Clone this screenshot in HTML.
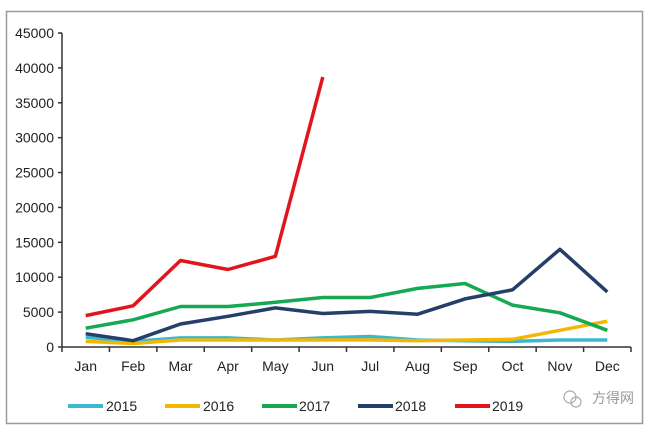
<!DOCTYPE html>
<html><head><meta charset="utf-8"><style>
html,body{margin:0;padding:0;background:#fff;}
svg{display:block;font-family:"Liberation Sans","Noto Sans CJK SC",sans-serif;}
</style></head><body>
<svg id="c" width="650" height="426" viewBox="0 0 650 426" xmlns="http://www.w3.org/2000/svg">
<rect x="0" y="0" width="650" height="426" fill="#fff"/>
<rect x="6.5" y="11.5" width="636" height="412" fill="#fff" stroke="#9a9a9a" stroke-width="1.5"/>
<g id="axes" stroke="#333" stroke-width="1.5"></g>
<g id="lbl" font-size="14" fill="#222"></g>
<g id="series" fill="none" stroke-width="3.5" stroke-linejoin="round"></g>
<g font-size="14" fill="#222">
<line x1="68" y1="406" x2="103" y2="406" stroke="#3bb8d0" stroke-width="4"/><text x="106" y="411">2015</text>
<line x1="165" y1="406" x2="200" y2="406" stroke="#f2b705" stroke-width="4"/><text x="203" y="411">2016</text>
<line x1="262" y1="406" x2="297" y2="406" stroke="#17a854" stroke-width="4"/><text x="299" y="411">2017</text>
<line x1="358" y1="406" x2="393" y2="406" stroke="#243f69" stroke-width="4"/><text x="395" y="411">2018</text>
<line x1="455" y1="406" x2="490" y2="406" stroke="#e0161c" stroke-width="4"/><text x="492" y="411">2019</text>
</g>
<circle cx="570" cy="397" r="6" fill="none" stroke="#aaa" stroke-width="1.2"/>
<circle cx="576" cy="402" r="5" fill="none" stroke="#aaa" stroke-width="1.2"/>
<text x="592" y="403" font-size="14" fill="#999">方得网</text>
</svg>
<script>
var ns="http://www.w3.org/2000/svg";
function el(p,t,a,txt){var e=document.createElementNS(ns,t);for(var k in a)e.setAttribute(k,a[k]);if(txt)e.textContent=txt;document.getElementById(p).appendChild(e);}
function Y(v){return 347-v*314/45000;}
var x0=62,x1=631,w=(x1-x0)/12;
el("axes","line",{x1:x0,y1:33,x2:x0,y2:347});
el("axes","line",{x1:x0,y1:347,x2:x1,y2:347});
for(var i=0;i<=9;i++){var y=Y(i*5000);el("axes","line",{x1:x0-4,y1:y,x2:x0,y2:y});
el("lbl","text",{x:x0-8,y:y+5,"text-anchor":"end"},String(i*5000));}
var m=["Jan","Feb","Mar","Apr","May","Jun","Jul","Aug","Sep","Oct","Nov","Dec"];
for(var i=0;i<=12;i++){var x=x0+i*w;el("axes","line",{x1:x,y1:347,x2:x,y2:352});}
for(var i=0;i<12;i++)el("lbl","text",{x:x0+(i+0.5)*w,y:371,"text-anchor":"middle"},m[i]);
var S=[
["#3bb8d0",[1400,800,1300,1300,1000,1300,1500,1000,900,800,1000,1000]],
["#f2b705",[800,500,1000,1000,1000,1000,1000,900,1000,1100,2400,3700]],
["#17a854",[2700,3900,5800,5800,6400,7100,7100,8400,9100,6000,4900,2400]],
["#243f69",[1900,900,3300,4400,5600,4800,5100,4700,6900,8200,14000,7900]],
["#e0161c",[4500,5900,12400,11100,13000,38700]]];
S.forEach(function(s){var p=s[1].map(function(v,i){return (x0+(i+0.5)*w).toFixed(1)+","+Y(v).toFixed(1);}).join(" ");
el("series","polyline",{points:p,stroke:s[0]});});
</script>
</body></html>
